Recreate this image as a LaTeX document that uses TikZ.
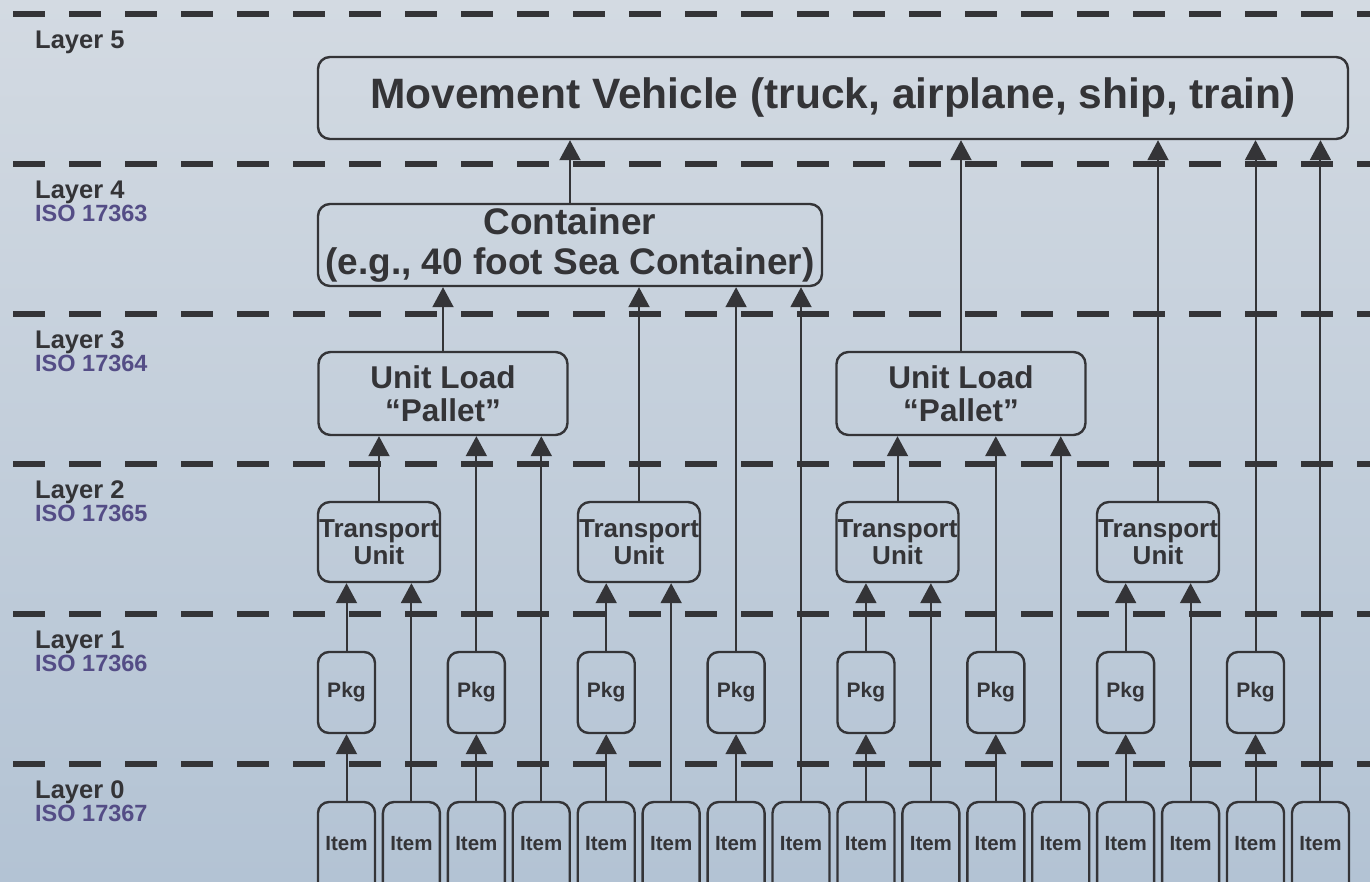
\documentclass[tikz,border=0pt]{standalone}
\usepackage{fontspec}
\setmainfont{Liberation Sans}
\usepackage{xcolor}
\usepackage{tikz}
\usetikzlibrary{arrows.meta, calc}
\definecolor{ink}{HTML}{343437}
\definecolor{isocolor}{HTML}{544D86}
\definecolor{bgtop}{HTML}{D3DAE2}
\definecolor{bgbottom}{HTML}{B3C3D4}
\newcommand{\fsz}[2]{\fontsize{#1}{#2}\selectfont}

\begin{document}
\begin{tikzpicture}[
  x=1pt, y=-1pt,
  font=\bfseries, text=ink,
  box/.style={rectangle, rounded corners=12pt, draw=ink, line width=2.4pt,
              inner sep=0pt, align=center},
  vehicle/.style={box, minimum width=1030pt, minimum height=82pt,
                  font=\bfseries\fsz{42.5}{46}},
  container/.style={box, minimum width=504pt, minimum height=82pt,
                  font=\bfseries\fsz{37}{40}},
  unitload/.style={box, minimum width=249pt, minimum height=83pt,
                  font=\bfseries\fsz{31.5}{33}},
  tunit/.style={box, minimum width=122pt, minimum height=80pt,
                  font=\bfseries\fsz{26}{27}},
  pkg/.style={box, rounded corners=11pt, minimum width=57pt,
                  minimum height=81pt, font=\bfseries\fsz{21}{23}},
  item/.style={box, rounded corners=11pt, minimum width=57pt,
                  minimum height=100pt, text depth=18pt,
                  font=\bfseries\fsz{20.5}{22}},
  layerlbl/.style={anchor=base west, inner sep=0pt, font=\bfseries\fsz{25.5}{28}},
  isolbl/.style={anchor=base west, inner sep=0pt, text=isocolor,
                 font=\bfseries\fsz{23.5}{26}},
  layerline/.style={draw=ink, line width=6pt, dash pattern=on 32pt off 24pt},
  arr/.style={-{Triangle[length=20pt, width=21pt]}, line width=2pt, draw=ink},
]

%% ── Background ───────────────────────────────────────────────────────────────
\fill[top color=bgtop, bottom color=bgbottom] (0,0) rectangle (1370,881);
\useasboundingbox (0,0) rectangle (1370,881);

%% ── Layer separators and labels ─────────────────────────────────────────────
\foreach \k in {0,...,5} {
  \pgfmathtruncatemacro{\lay}{5-\k}
  \draw[layerline] (13,{14+150*\k}) -- (1370,{14+150*\k});
  \node[layerlbl] (Lay\lay) at (35,{48+150*\k}) {Layer \lay};
}
\foreach \k/\iso in {1/17363, 2/17364, 3/17365, 4/17366, 5/17367}
  \node[isolbl] (ISO\k) at (35,{71+150*\k}) {ISO \iso};

%% ── Layer 0: items ───────────────────────────────────────────────────────────
\foreach \i in {0,...,15}
  \node[item] (It\i) at ({346.5+64.93*\i}, 852) {Item};

%% ── Layer 1: packages ────────────────────────────────────────────────────────
%  Each package sits above every second item.
\foreach \k in {1,...,8}
  \node[pkg] (Pk\k) at ({346.5+129.86*(\k-1)}, 692.5) {Pkg};

%% ── Layer 2: transport units ─────────────────────────────────────────────────
\foreach \k/\x in {1/379, 2/639, 3/897.5, 4/1158}
  \node[tunit] (TU\k) at (\x, 542) {Transport\\Unit};

%% ── Layers 3--5 ──────────────────────────────────────────────────────────────
\node[unitload]  (UL1)  at (443, 393.5) {Unit Load\\“Pallet”};
\node[unitload]  (UL2)  at (961, 393.5) {Unit Load\\“Pallet”};
\node[container] (Cont) at (570, 245)   {Container\\(e.g., 40 foot Sea Container)};
\node[vehicle]   (MV)   at (833, 98)    {Movement Vehicle (truck, airplane, ship, train)};

%% ── Arrows ───────────────────────────────────────────────────────────────────
\foreach \a/\b in {It0/Pk1, Pk1/TU1, It1/TU1, It2/Pk2, Pk2/UL1, It3/UL1,
                   It4/Pk3, Pk3/TU2, It5/TU2, It6/Pk4, Pk4/Cont, It7/Cont,
                   It8/Pk5, Pk5/TU3, It9/TU3, It10/Pk6, Pk6/UL2, It11/UL2,
                   It12/Pk7, Pk7/TU4, It13/TU4, It14/Pk8, Pk8/MV, It15/MV,
                   TU1/UL1, TU2/Cont, TU3/UL2, TU4/MV,
                   UL1/Cont, UL2/MV, Cont/MV}
  \draw[arr] (\a.north) -- (\a.north |- \b.south);

\end{tikzpicture}
\end{document}
